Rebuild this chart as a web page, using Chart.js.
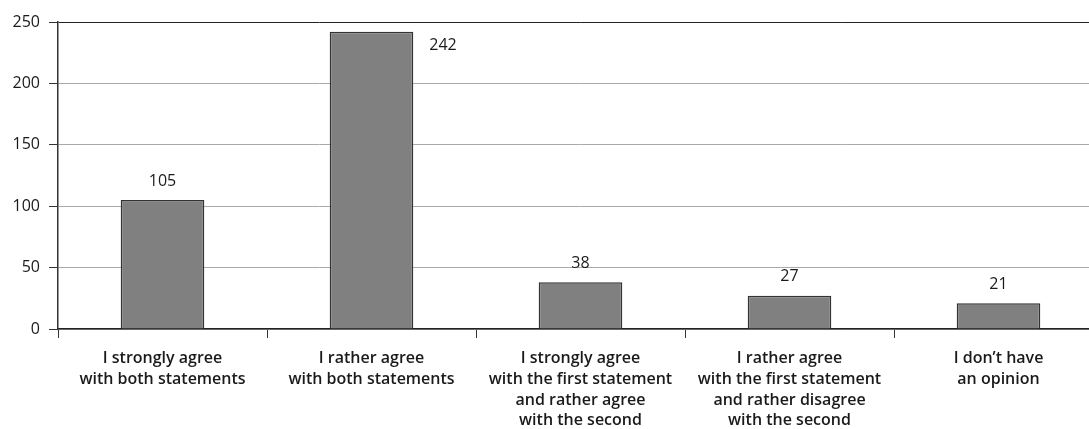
<!DOCTYPE html>
<html>
<head>
<meta charset="utf-8">
<script src="https://cdn.jsdelivr.net/npm/chart.js@4"></script>
<style>
  html, body { margin: 0; padding: 0; background: #fff; overflow: hidden; }
  #wrap { width: 1089px; height: 429px; overflow: hidden; }
</style>
</head>
<body>
<div id="wrap"><canvas id="opinionChart" width="1110" height="429"></canvas></div>
<script>
// answers and counts
const categories = [
    ['I strongly agree', 'with both statements'],
    ['I rather agree', 'with both statements'],
    ['I strongly agree', 'with the first statement', 'and rather agree', 'with the second'],
    ['I rather agree', 'with the first statement', 'and rather disagree', 'with the second'],
    ['I don\u2019t have', 'an opinion']
];
const counts = [105, 242, 38, 27, 21];
const yTicks = [0, 50, 100, 150, 200, 250];

const FONT = '"Open Sans", "DejaVu Sans", sans-serif';

// draws the number above each bar (or beside it when there is no room)
const valueLabels = {
    id: 'valueLabels',
    afterDatasetsDraw(chart) {
        const ctx = chart.ctx;
        const meta = chart.getDatasetMeta(0);
        ctx.save();
        ctx.font = '16px ' + FONT;
        ctx.fillStyle = '#1a1a1a';
        ctx.textBaseline = 'middle';
        meta.data.forEach((bar, i) => {
            const text = String(counts[i]);
            const above = bar.y - 19;
            if (above - 8 < chart.chartArea.top) {
                ctx.textAlign = 'left';
                ctx.fillText(text, bar.x + bar.width / 2 + 16, bar.y + 14);
            } else {
                ctx.textAlign = 'center';
                ctx.fillText(text, bar.x, above);
            }
        });
        ctx.restore();
    }
};

new Chart(document.getElementById('opinionChart').getContext('2d'), {
    type: 'bar',
    data: {
        labels: categories,
        datasets: [{
            data: counts,
            backgroundColor: '#808080',
            borderColor: '#333333',
            borderWidth: 1.5,
            categoryPercentage: 1,
            barPercentage: 0.4
        }]
    },
    options: {
        responsive: false,
        animation: false,
        devicePixelRatio: 1,
        layout: { padding: { top: 22, right: 7, left: 0, bottom: 0 } },
        plugins: {
            legend: { display: false },
            tooltip: { enabled: false }
        },
        scales: {
            x: {
                offset: true,
                grid: {
                    offset: true,
                    drawOnChartArea: false,
                    drawTicks: true,
                    tickLength: 9,
                    tickColor: '#333333'
                },
                border: { color: '#222222', width: 1.5 },
                ticks: {
                    color: '#1a1a1a',
                    padding: 10,
                    maxRotation: 0,
                    autoSkip: false,
                    font: { family: FONT, size: 16, weight: '600', lineHeight: 1.3 }
                },
                afterFit(scale) { scale.height = 100; }
            },
            y: {
                min: 0,
                max: 250,
                afterBuildTicks(scale) { scale.ticks = yTicks.map(v => ({ value: v })); },
                grid: {
                    color: ctx => (ctx.tick && ctx.tick.value === 250 ? '#222222' : '#aaaaaa'),
                    lineWidth: 1,
                    tickLength: 9,
                    tickColor: '#333333'
                },
                border: { color: '#333333', width: 1.5 },
                ticks: {
                    color: '#1a1a1a',
                    padding: 9,
                    font: { family: FONT, size: 16 }
                },
                afterFit(scale) { scale.width = 58; }
            }
        }
    },
    plugins: [valueLabels]
});
</script>
</body>
</html>
